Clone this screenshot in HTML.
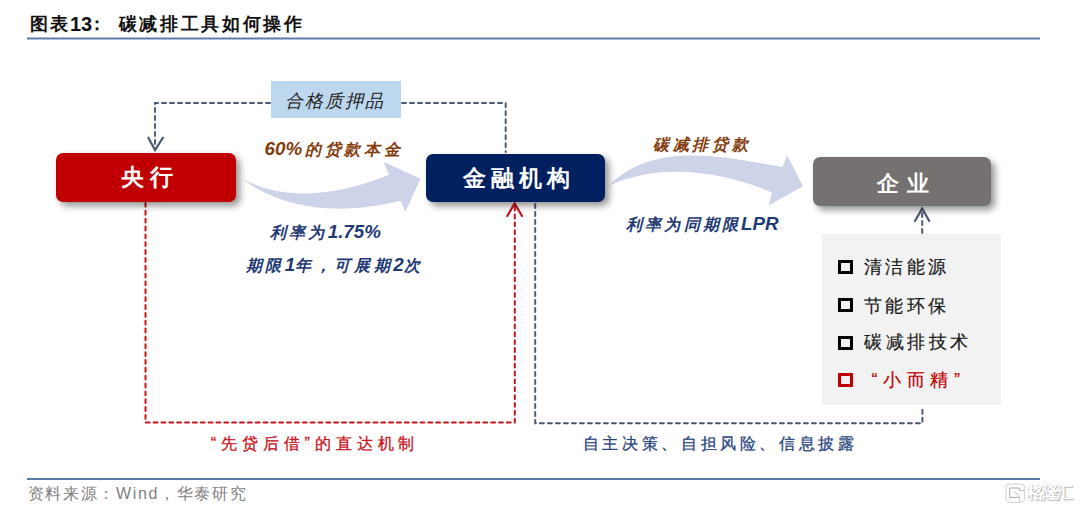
<!DOCTYPE html>
<html><head><meta charset="utf-8">
<style>
html,body{margin:0;padding:0;background:#fff;}
body{width:1080px;height:510px;position:relative;overflow:hidden;font-family:"Liberation Sans",sans-serif;}
.t{position:absolute;white-space:nowrap;line-height:1;}
.box{position:absolute;border-radius:7px;box-shadow:4px 4px 7px rgba(0,0,0,0.42);}
.bt{color:#fff;font-weight:bold;font-family:"Liberation Serif",serif;}
.lat{font-size:18.8px;letter-spacing:0;}
svg{position:absolute;left:0;top:0;}
</style></head>
<body>
<div class="t" id="t1" style="left:30px;top:15px;letter-spacing:2px;font-size:18px;font-weight:bold;color:#111;">图表</div>
<div class="t" id="t2" style="left:70px;top:13.5px;letter-spacing:0px;font-size:20px;font-weight:bold;color:#111;">13</div>
<div class="t" id="t2b" style="left:88px;top:15px;letter-spacing:0px;font-size:18px;font-weight:bold;color:#111;">：</div>
<div class="t" id="t3" style="left:118.8px;top:15.0px;letter-spacing:2.62px;font-size:18px;font-weight:bold;color:#111;">碳减排工具如何操作</div>
<svg width="1080" height="510" style="position:absolute;left:0;top:0;"><line x1="27" y1="38.5" x2="1040" y2="38.5" stroke="#5b7ca9" stroke-width="2.2"/></svg>
<svg width="1080" height="510" viewBox="0 0 1080 510">
  <path d="M242.6,179 C288.4,203.3 343.2,193.5 389,174.7 L383.5,161.7 L420.5,178.8 L405.4,211.7 L400.6,200.8 C347.6,213.7 288,213.6 242.6,179 Z" fill="#cdd4ea"/>
  <path d="M609.2,185.5 C654.3,139.6 726.4,157.6 782.4,167 L787.2,155.3 L803,186.2 L768.7,205.4 L772.1,192.4 C721,171.3 661.3,162.4 609.2,185.5 Z" fill="#cdd4ea"/>
  <g fill="none" stroke="#4d5b73" stroke-width="2" stroke-dasharray="4 4" stroke-linecap="round">
    <path d="M270,103 H155 V149"/>
    <path d="M402,103 H505.7 V152"/>
    <path d="M535.2,204 V423.3 H922.4 V406"/>
    <path d="M922.2,233 V210"/>
  </g>
  <g fill="none" stroke="#4d5b73" stroke-width="2.2" stroke-linecap="round" stroke-linejoin="miter">
    <path d="M148.4,137.7 L155,150 L163,137.7"/>
    <path d="M915,221 L922.2,208.5 L929.2,221"/>
  </g>
  <g fill="none" stroke="#c8141c" stroke-width="2" stroke-dasharray="3.85 4" stroke-linecap="round">
    <path d="M145.5,203 V422.5 H514.8 V205"/>
  </g>
  <g fill="none" stroke="#c8141c" stroke-width="2.2" stroke-linecap="round" stroke-linejoin="miter">
    <path d="M507.3,216 L514.6,203.5 L522,216"/>
  </g>
</svg>
<div style="position:absolute;left:271px;top:81px;width:130px;height:37px;background:#bdd7ee;"></div>
<div class="t" id="hg" style="left:285.2px;top:91.8px;letter-spacing:1.88px;font-size:18px;font-style:italic;color:#222;">合格质押品</div>
<div class="box" style="left:56px;top:153px;width:180px;height:49px;background:#c00000;"></div>
<div class="t bt" id="b1" style="left:121.2px;top:165.8px;letter-spacing:6.0px;font-size:23px;">央行</div>
<div class="box" style="left:426px;top:154px;width:179px;height:48px;background:#002060;"></div>
<div class="t bt" id="b2" style="left:463.0px;top:166.8px;letter-spacing:5.0px;font-size:23px;">金融机构</div>
<div class="box" style="left:813px;top:157px;width:178px;height:49px;background:#767171;"></div>
<div class="t bt" id="b3" style="left:877.2px;top:173.4px;letter-spacing:7.8px;font-size:22px;">企业</div>
<div class="t" id="l1" style="left:264.6px;top:140.0px;letter-spacing:3.59px;font-size:16px;font-weight:bold;font-style:italic;color:#843c0c;"><span class="lat" style="margin-right:3px">60%</span>的贷款本金</div>
<div class="t" id="l2" style="left:270.0px;top:223.0px;letter-spacing:3.23px;font-size:16px;font-weight:bold;font-style:italic;color:#1f3a75;">利率为<span class="lat">1.75%</span></div>
<div class="t" id="l3" style="left:245.6px;top:256.4px;letter-spacing:3.6px;font-size:16px;font-weight:bold;font-style:italic;color:#1f3a75;">期限<span class="lat">1</span>年，可展期<span class="lat">2</span>次</div>
<div class="t" id="l4" style="left:653.0px;top:136.5px;letter-spacing:3.74px;font-size:16px;font-weight:bold;font-style:italic;color:#843c0c;">碳减排贷款</div>
<div class="t" id="l5" style="left:626.0px;top:214.6px;letter-spacing:3.18px;font-size:16px;font-weight:bold;font-style:italic;color:#1f3a75;">利率为同期限<span class="lat">LPR</span></div>
<div style="position:absolute;left:822px;top:234px;width:179px;height:171px;background:#f2f2f2;"></div>
<div style="position:absolute;left:838px;top:260px;width:9px;height:8px;border:3px solid #000;"></div>
<div style="position:absolute;left:838px;top:298px;width:9px;height:8px;border:3px solid #000;"></div>
<div style="position:absolute;left:838px;top:336px;width:9px;height:8px;border:3px solid #000;"></div>
<div style="position:absolute;left:838px;top:373px;width:9px;height:8px;border:3px solid #c00000;"></div>
<div class="t" id="p1" style="left:863.8px;top:258.0px;letter-spacing:3.39px;font-size:18px;color:#1a1a1a;-webkit-text-stroke:0.2px #1a1a1a;">清洁能源</div>
<div class="t" id="p2" style="left:863.8px;top:296.6px;letter-spacing:3.39px;font-size:18px;color:#1a1a1a;-webkit-text-stroke:0.2px #1a1a1a;">节能环保</div>
<div class="t" id="p3" style="left:864.0px;top:333.2px;letter-spacing:3.5px;font-size:18px;color:#1a1a1a;-webkit-text-stroke:0.2px #1a1a1a;">碳减排技术</div>
<div class="t" id="p4" style="left:871.6px;top:371.0px;letter-spacing:5.6px;font-size:18px;color:#c00000;-webkit-text-stroke:0.2px #c00000;">“小而精”</div>
<div class="t" id="bl1" style="left:210.8px;top:435.6px;letter-spacing:4.9px;font-size:16px;color:#c8141c;-webkit-text-stroke:0.3px #c8141c;">“先贷后借”的直达机制</div>
<div class="t" id="bl2" style="left:582.8px;top:436.2px;letter-spacing:3.62px;font-size:16px;color:#2a4580;-webkit-text-stroke:0.3px #2a4580;">自主决策、自担风险、信息披露</div>
<div style="position:absolute;left:27px;top:478px;width:1013px;height:2px;background:#5b7ca9;"></div>
<div class="t" id="foot" style="left:27.8px;top:486.4px;letter-spacing:1.64px;font-size:16px;color:#7f7f7f;">资料来源：Wind，华泰研究</div>
<svg width="1080" height="510" viewBox="0 0 1080 510" style="position:absolute;left:0;top:0;"><g fill="none" stroke-width="1"><rect x="1006" y="484" width="18.4" height="18.4" rx="3" stroke="#d0d0d0"/><path d="M1019.4,490.5 V488 H1009.7 V497.4 H1019" stroke="#a8a8a8"/><path d="M1019.4,490.5 H1024 M1013.5,491 L1019.4,496 V502" stroke="#c4c4c4"/></g></svg><div class="t" id="wm" style="left:1027.0px;top:483.8px;letter-spacing:-2.5px;font-size:17px;font-weight:bold;color:#fff;text-shadow:1px 1px 1px rgba(0,0,0,0.28),0 0 1px rgba(0,0,0,0.25);">格隆汇</div>
</body></html>
